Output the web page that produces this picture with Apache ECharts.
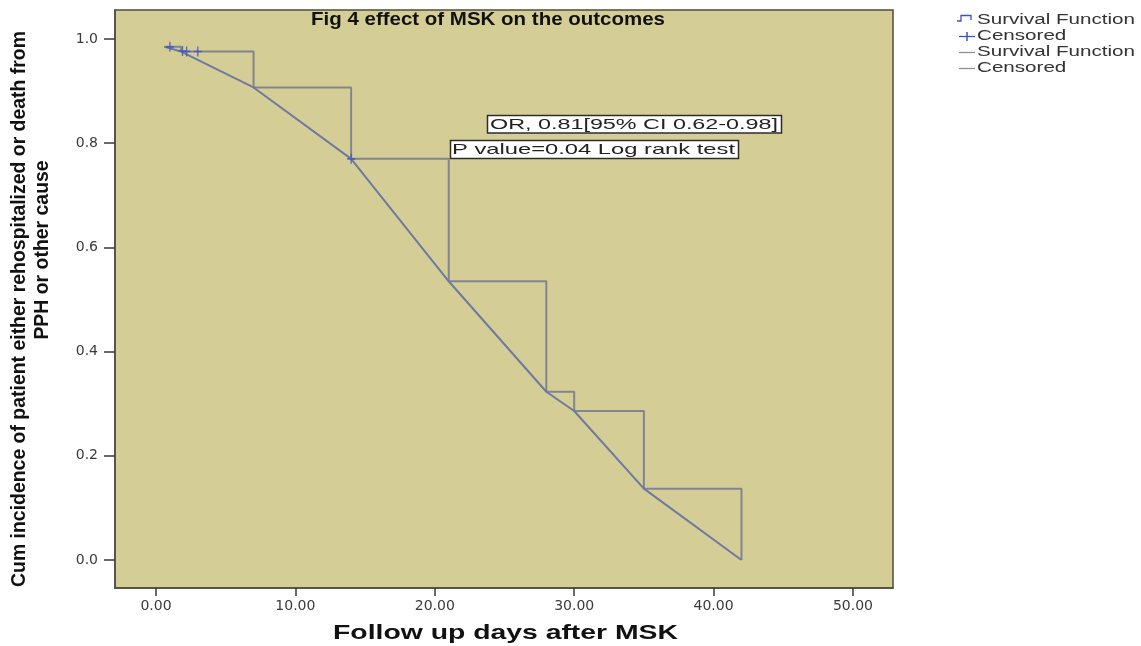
<!DOCTYPE html>
<html>
<head>
<meta charset="utf-8">
<title>Fig 4 effect of MSK on the outcomes</title>
<script src="https://cdn.jsdelivr.net/npm/echarts@6/dist/echarts.min.js"></script>
<style>
  html, body { margin: 0; padding: 0; background: #ffffff; }
  #chart { width: 1141px; height: 646px; }
</style>
</head>
<body>
<div id="chart"></div>
<script>
// Kaplan-Meier style curve: event days and cumulative values after each event
const stepDays = [0.6, 1.8, 7, 14, 21, 28, 30, 35, 42];
const stepValues = [0.985, 0.976, 0.907, 0.770, 0.535, 0.323, 0.286, 0.137, 0.0];

// second survival function, joined point to point
const lineDays = [0.6, 1.8, 7, 14, 21, 28, 30, 35, 42];
const lineValues = [0.985, 0.976, 0.907, 0.770, 0.535, 0.323, 0.286, 0.137, 0.0];

// censored observations
const censorDays = [1.0, 1.9, 2.2, 3.0, 14.0];
const censorValues = [0.985, 0.977, 0.976, 0.976, 0.770];

// axis ticks
const xTicks = [0, 10, 20, 30, 40, 50];
const yTicks = [0, 0.2, 0.4, 0.6, 0.8, 1.0];

const legendLabels = ['Survival Function', 'Censored', 'Survival Function', 'Censored'];
const titleText = 'Fig 4 effect of MSK on the outcomes';
const noteOR = 'OR, 0.81[95% CI 0.62-0.98]';
const noteP = 'P value=0.04 Log rank test';
const xName = 'Follow up days after MSK';
const yNameLines = ['Cum incidence of patient either rehospitalized or death from', 'PPH or other cause'];

const zip = (xs, ys) => xs.map((x, i) => [x, ys[i]]);

// horizontal stretch so a text run spans a given width
const measureCtx = document.createElement('canvas').getContext('2d');
function stretch(text, font, width) {
  measureCtx.font = font;
  return width / measureCtx.measureText(text).width;
}

const SANS = '"Liberation Sans", Arial, sans-serif';
const TICKFONT = '"DejaVu Sans", Verdana, sans-serif';

const plot = { left: 115, top: 10, width: 778, height: 578 };
const bg = '#d4ce96';
const frame = '#4e4c3e';
const stepColor = '#80858f';
const lineColor = '#6e7aa2';
const censorColor = '#3f52c2';
const textColor = '#333333';

const titleFont = 'bold 19px ' + SANS;
const noteFont = '15px ' + SANS;
const legendFont = '14px ' + SANS;
const xNameFont = 'bold 21px ' + SANS;
// condensed bold look: regular bold face squeezed horizontally
const yNameFont = 'bold 21px ' + SANS;

const legendScale = stretch(legendLabels[0], legendFont, 158);
const yNameScale = stretch(yNameLines[0], yNameFont, 556);

function textEl(text, font, x, y, scaleX, fill) {
  return {
    type: 'text', x: x, y: y, scaleX: scaleX, z: 100,
    style: { text: text, font: font, fill: fill || textColor, textAlign: 'left', textVerticalAlign: 'middle' }
  };
}

const graphics = [];

// title inside plot
graphics.push(textEl(titleText, titleFont, 311, 20, stretch(titleText, titleFont, 354), '#111111'));

// annotation boxes
graphics.push({ type: 'rect', z: 90, shape: { x: 487.5, y: 115.5, width: 294, height: 17.5 },
  style: { fill: '#ffffff', stroke: '#2c2c2c', lineWidth: 1.5 } });
graphics.push(textEl(noteOR, noteFont, 490, 124.5, stretch(noteOR, noteFont, 288), '#222222'));
graphics.push({ type: 'rect', z: 90, shape: { x: 450.5, y: 140.5, width: 288, height: 18 },
  style: { fill: '#ffffff', stroke: '#2c2c2c', lineWidth: 1.5 } });
graphics.push(textEl(noteP, noteFont, 452, 149.5, stretch(noteP, noteFont, 283), '#222222'));

// axis titles
graphics.push(textEl(xName, xNameFont, 333, 633, stretch(xName, xNameFont, 345), '#111111'));
graphics.push({ type: 'text', x: 19, y: 309, rotation: Math.PI / 2, scaleX: yNameScale, z: 100,
  style: { text: yNameLines[0], font: yNameFont, fill: '#111111', textAlign: 'center', textVerticalAlign: 'middle' } });
graphics.push({ type: 'text', x: 42, y: 250, rotation: Math.PI / 2, scaleX: yNameScale, z: 100,
  style: { text: yNameLines[1], font: yNameFont, fill: '#111111', textAlign: 'center', textVerticalAlign: 'middle' } });

// legend (right of plot)
const legendRows = [20, 36.5, 52.5, 68.5];
graphics.push({ type: 'polyline', z: 100, shape: { points: [[957, 21], [961, 21], [961, 15.5], [971, 15.5], [971, 20]] },
  style: { stroke: censorColor, lineWidth: 1.3, fill: null } });
graphics.push({ type: 'line', z: 100, shape: { x1: 959, y1: legendRows[1], x2: 975, y2: legendRows[1] },
  style: { stroke: censorColor, lineWidth: 1.3 } });
graphics.push({ type: 'line', z: 100, shape: { x1: 967, y1: legendRows[1] - 4.5, x2: 967, y2: legendRows[1] + 4.5 },
  style: { stroke: censorColor, lineWidth: 1.5 } });
graphics.push({ type: 'line', z: 100, shape: { x1: 959, y1: legendRows[2], x2: 975, y2: legendRows[2] },
  style: { stroke: '#8b909c', lineWidth: 1.3 } });
graphics.push({ type: 'line', z: 100, shape: { x1: 959, y1: legendRows[3], x2: 975, y2: legendRows[3] },
  style: { stroke: '#8b909c', lineWidth: 1.3 } });
legendLabels.forEach((t, i) => {
  graphics.push(textEl(t, legendFont, 977, legendRows[i], legendScale, textColor));
});

// axis range chosen so that the frame sits a little beyond the data
const xMin = -2.94, xMax = 52.87;
const yMin = -0.0537, yMax = 1.0557;

const option = {
  animation: false,
  backgroundColor: '#ffffff',
  grid: Object.assign({ show: true, backgroundColor: bg, borderColor: frame, borderWidth: 1.5 }, plot),
  xAxis: {
    type: 'value', min: xMin, max: xMax,
    axisLine: { show: true, onZero: false, lineStyle: { color: frame, width: 1.5 } },
    axisTick: { show: true, customValues: xTicks, length: 8, lineStyle: { color: '#3a3a3a', width: 1.5 } },
    axisLabel: { customValues: xTicks, formatter: v => v.toFixed(2), margin: 11,
      fontFamily: TICKFONT, fontSize: 14, color: '#3a3a3a' },
    splitLine: { show: false }
  },
  yAxis: {
    type: 'value', min: yMin, max: yMax,
    axisLine: { show: true, onZero: false, lineStyle: { color: frame, width: 1.5 } },
    axisTick: { show: true, customValues: yTicks, length: 11, lineStyle: { color: '#3a3a3a', width: 1.5 } },
    axisLabel: { customValues: yTicks, formatter: v => v.toFixed(1), margin: 17,
      fontFamily: TICKFONT, fontSize: 14, color: '#3a3a3a' },
    splitLine: { show: false }
  },
  series: [
    {
      name: 'Survival Function', type: 'line', step: 'end',
      data: zip(stepDays, stepValues), symbol: 'none',
      lineStyle: { color: stepColor, width: 2 }, z: 3
    },
    {
      name: 'Survival Function B', type: 'line',
      data: zip(lineDays, lineValues), symbol: 'none',
      lineStyle: { color: lineColor, width: 2 }, z: 4
    },
    {
      name: 'Censored', type: 'scatter',
      data: zip(censorDays, censorValues),
      symbol: 'path://M5,0 L5,10 M0,5 L10,5', symbolSize: [8, 10],
      itemStyle: { color: 'rgba(0,0,0,0)', borderColor: censorColor, borderWidth: 1.5 },
      z: 5
    }
  ],
  graphic: graphics
};

const chart = echarts.init(document.getElementById('chart'), null, { renderer: 'canvas', width: 1141, height: 646 });
chart.setOption(option);
</script>
</body>
</html>
